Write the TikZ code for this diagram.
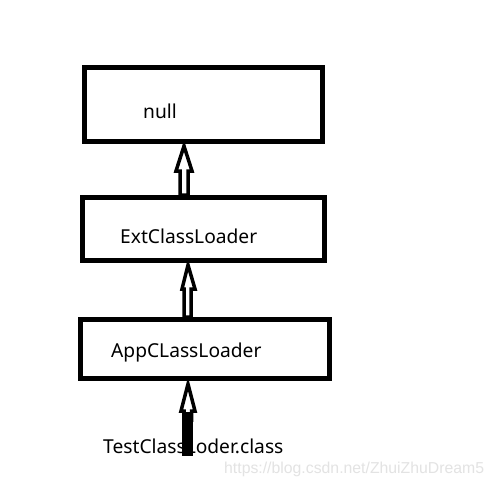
\documentclass[tikz,border=0pt]{standalone}
\usepackage{fontspec}
\setmainfont{Noto Sans}
\newfontfamily\wmfont{Liberation Sans}
\begin{document}
\begin{tikzpicture}[x=1pt,y=-1pt,
  boxline/.style={draw=black,line width=5pt},
  arrowline/.style={draw=black,line width=3.5pt,line join=miter,fill=white},
  lbl/.style={anchor=base west,inner sep=0pt,font=\fontsize{19.2pt}{22pt}\selectfont},
  wm/.style={anchor=base west,inner sep=0pt,text=black!11,font=\wmfont\fontsize{15.8pt}{18pt}\selectfont}]
\useasboundingbox[fill=white] (0,0) rectangle (496,485);
% boxes
\draw[boxline] (84,67) rectangle (322,141);
\draw[boxline] (82.5,197.5) rectangle (324,260);
\draw[boxline] (80.5,319.5) rectangle (329.5,378.5);
% arrows
\draw[arrowline] (184,146) -- (192,171) -- (188,171) -- (188,195) -- (180,195) -- (180,171) -- (176,171) -- cycle;
\draw[arrowline] (188,265) -- (195,289) -- (191,289) -- (191,317) -- (184,317) -- (184,289) -- (182,289) -- cycle;
\draw[arrowline] (188,384) -- (195,411) -- (191.5,411) -- (191.5,420) -- (184,420) -- (184,411) -- (181,411) -- cycle;
\fill[black] (182,412) rectangle (193,456);
% labels
\node[lbl] (tnull) at (143,118) {null};
\node[lbl] (text) at (120,243) {ExtClassLoader};
\node[lbl] (tapp) at (111,357) {AppCLassLoader};
\node[lbl] (ttest) at (103,453) {TestClassLoder.class};
\node[wm] (twm) at (224,473) {https://blog.csdn.net/ZhuiZhuDream5};
\end{tikzpicture}
\end{document}
